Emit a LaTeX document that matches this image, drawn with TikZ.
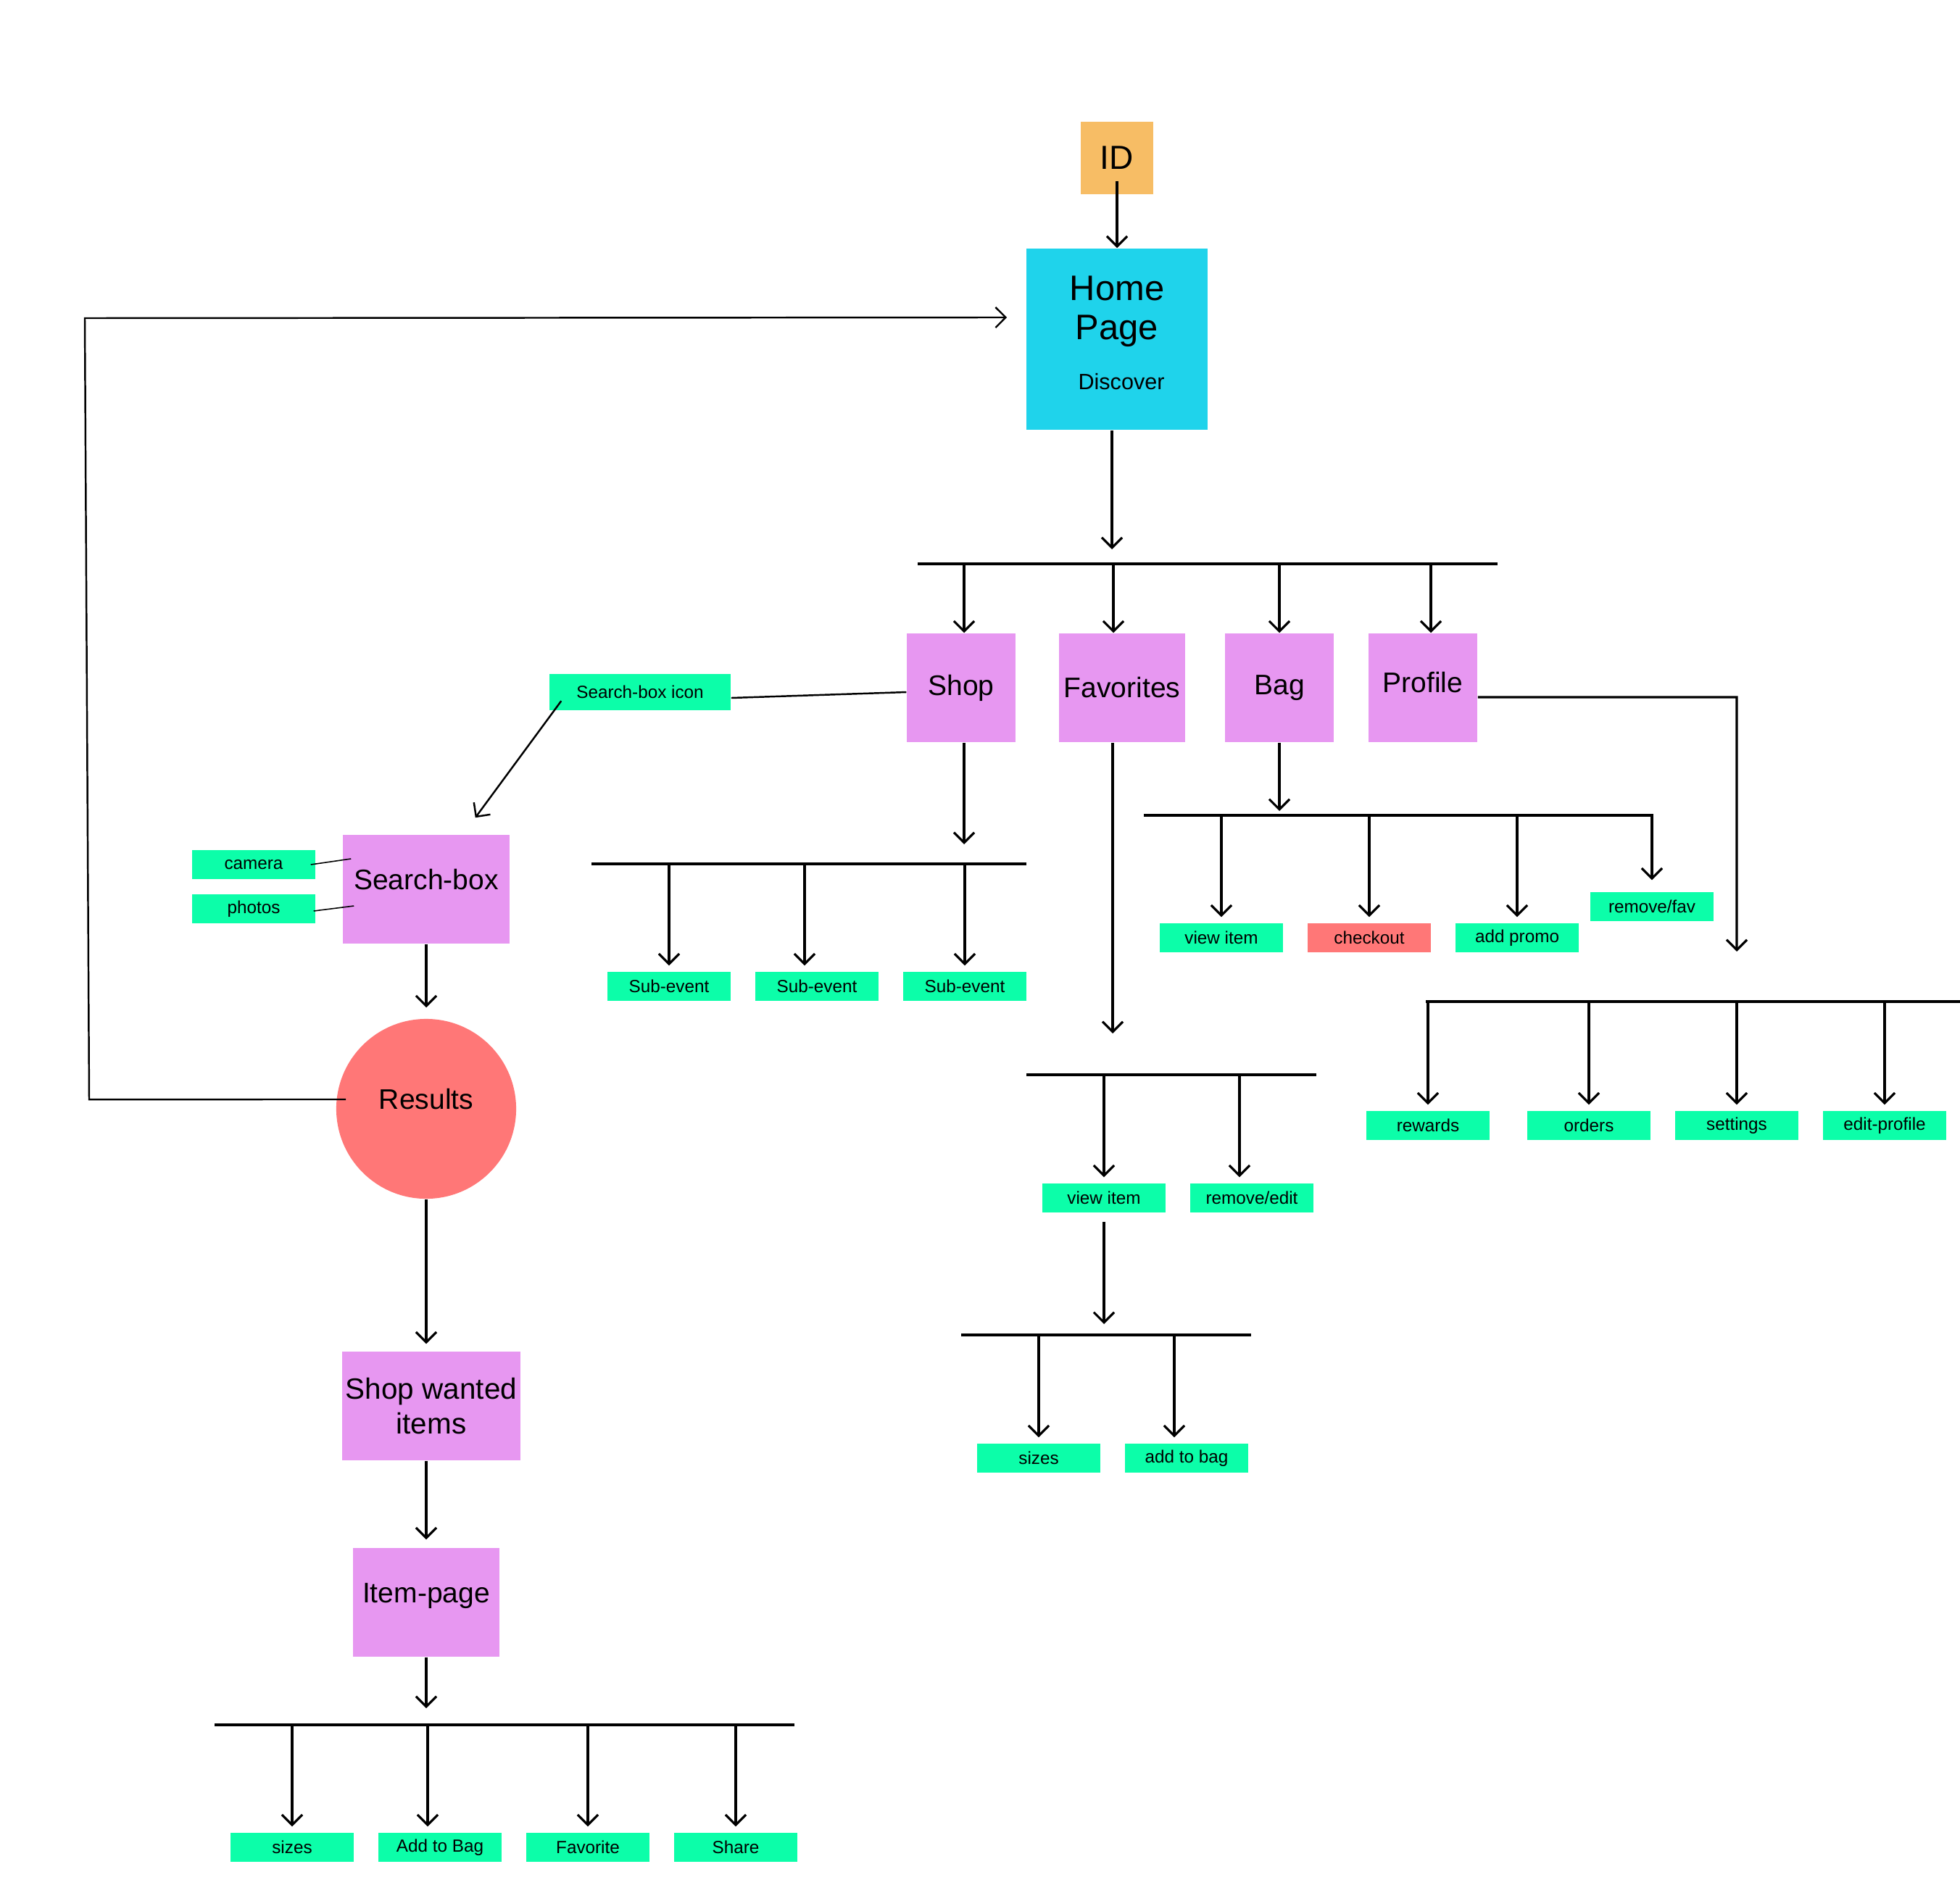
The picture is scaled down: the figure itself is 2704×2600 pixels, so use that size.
\documentclass[tikz,border=0pt]{standalone}
\usepackage{fontspec}
\setmainfont{Liberation Sans}
\usetikzlibrary{arrows.meta}
\definecolor{idorange}{HTML}{F7BD65}
\definecolor{homecyan}{HTML}{1FD3EB}
\definecolor{pagepink}{HTML}{E797F1}
\definecolor{leafgreen}{HTML}{0CFEA9}
\definecolor{alertred}{HTML}{FF7777}
\tikzset{
  arr/.style={-{Straight Barb[length=4pt,width=8pt]}, line width=0.9pt},
  branch/.style={arr, shorten >=0.08cm},
  bar/.style={line width=0.9pt},
  thinline/.style={line width=0.45pt},
  page/.style={fill=pagepink, minimum width=1.5cm, minimum height=1.5cm, inner sep=0pt,
    font=\fontsize{11.1}{13.4}\selectfont},
  leaf/.style={fill=leafgreen, minimum width=1.7cm, minimum height=0.4cm, inner sep=0pt,
    font=\fontsize{6.9}{8}\selectfont},
  raised/.style={text height=0.3cm, text depth=0.3cm}
}
\begin{document}
\begin{tikzpicture}[x=0.01cm, y=-0.01cm]
  \useasboundingbox (0,0) rectangle (2704,2600);

  % main column
  \node[fill=idorange, minimum size=1cm, inner sep=0pt, font=\fontsize{13.1}{15}\selectfont] (id) at (1541,218) {ID};
  \node[fill=homecyan, minimum size=2.5cm, inner sep=0pt, align=center,
    font=\fontsize{13.9}{15.6}\selectfont] (home) at (1541,468)
    {Home\\Page\\[4pt]{\fontsize{8.7}{10}\selectfont\hspace{0.12cm}Discover}\\[-0.37cm]};
  \draw[arr] ([yshift=0.19cm]id.south) -- (home);

  \coordinate (topL) at (1266,778);
  \coordinate (topR) at (2066,778);
  \draw[arr, shorten >=0.2cm] ([xshift=-0.07cm]home.south) -- ([xshift=-0.07cm]home.south |- topL);
  \draw[bar] (topL) -- (topR);

  \node[page] (shop) at (1326,949) {Shop};
  \node[page, minimum width=1.73cm] (fav) at (1548,949) {Favorites};
  \node[page] (bag) at (1765,949) {Bag};
  \node[page, text height=0.3cm, text depth=0.18cm] (profile) at (1963,949) {Profile};
  \foreach \nm/\dx in {shop/0.04, fav/-0.12, bag/0, profile/0.11} {
    \draw[arr] ([xshift=\dx cm]\nm.north |- topL) -- ([xshift=\dx cm]\nm.north);
  }

  % shop
  \coordinate (shopL) at (816,1192);
  \coordinate (shopR) at (1416,1192);
  \draw[arr, shorten >=0.27cm] ([xshift=0.04cm]shop.south) -- ([xshift=0.04cm]shop.south |- shopL);
  \draw[bar] (shopL) -- (shopR);
  \foreach \nm/\x/\dx in {sub1/923/0, sub2/1127/-0.17, sub3/1331/0} {
    \node[leaf] (\nm) at (\x,1361) {Sub-event};
    \draw[branch] ([xshift=\dx cm]\nm.north |- shopL) -- ([xshift=\dx cm]\nm.north);
  }

  % bag
  \coordinate (bagL) at (1578,1125);
  \draw[arr, shorten >=0.06cm] (bag) -- (bag |- bagL);
  \foreach \nm/\x/\col/\txt in {bview/1685/leafgreen/view item, bcheck/1889/alertred/checkout,
      bpromo/2093/leafgreen/add promo} {
    \node[leaf, fill=\col] (\nm) at (\x,1294) {\txt};
    \draw[branch] (\nm |- bagL) -- (\nm);
  }
  \node[leaf] (bremove) at (2279,1251) {remove/fav};
  \draw[arr, shorten >=0.16cm] (bagL) -- (bremove |- bagL) -- (bremove);

  % profile
  \coordinate (profturn) at (2396,962);
  \coordinate (profL) at (1967,1382);
  \coordinate (profR) at (2704,1382);
  \draw[arr, shorten >=0.69cm] ([yshift=-0.13cm]profile.east) -- (profturn) -- (profturn |- profL);
  \draw[bar] (profL) -- (profR);
  \foreach \nm/\x/\txt in {prew/1970/rewards, pord/2192/orders, pset/2396/settings, pedit/2600/edit-profile} {
    \node[leaf] (\nm) at (\x,1553) {\txt};
    \draw[branch] (\nm |- profL) -- (\nm);
  }

  % favorites
  \coordinate (favL) at (1416,1483);
  \coordinate (favR) at (1816,1483);
  \draw[arr, shorten >=0.57cm] ([xshift=-0.13cm]fav.south) -- ([xshift=-0.13cm]fav.south |- favL);
  \draw[bar] (favL) -- (favR);
  \foreach \nm/\x/\dx/\txt in {fview/1523/0/view item, fedit/1727/-0.17/{remove/edit}} {
    \node[leaf] (\nm) at (\x,1653) {\txt};
    \draw[branch] ([xshift=\dx cm]\nm.north |- favL) -- ([xshift=\dx cm]\nm.north);
  }
  \coordinate (viewL) at (1326,1842);
  \coordinate (viewR) at (1726,1842);
  \draw[arr, shorten <=0.12cm, shorten >=0.15cm] (fview) -- (fview |- viewL);
  \draw[bar] (viewL) -- (viewR);
  \foreach \nm/\x/\dx/\txt in {vsize/1433/0/sizes, vbag/1637/-0.17/add to bag} {
    \node[leaf] (\nm) at (\x,2012) {\txt};
    \draw[branch] ([xshift=\dx cm]\nm.north |- viewL) -- ([xshift=\dx cm]\nm.north);
  }

  % search
  \node[leaf, minimum width=2.5cm, minimum height=0.49cm] (sbicon) at (883,955) {Search-box icon};
  \draw[line width=0.7pt] ([yshift=-0.06cm]shop.west) -- ([yshift=-0.08cm]sbicon.east);
  \node[page, minimum width=2.3cm, raised] (sbox) at (588,1227) {Search-box};
  \draw[arr, line width=0.7pt] ([xshift=0.17cm,yshift=0.13cm]sbicon.south west)
    -- ([xshift=-0.48cm,yshift=0.23cm]sbox.north east);
  \node[leaf] (camera) at (350,1193) {camera};
  \node[leaf] (photos) at (350,1254) {photos};
  \draw[thinline] ([xshift=-0.07cm]camera.east) -- ([xshift=0.12cm,yshift=0.42cm]sbox.west);
  \draw[thinline] ([xshift=-0.03cm,yshift=-0.03cm]photos.east) -- ([xshift=0.16cm,yshift=-0.23cm]sbox.west);

  \node[circle, fill=alertred, minimum size=2.48cm, inner sep=0pt, raised,
    font=\fontsize{11.1}{13.4}\selectfont] (results) at (588,1530) {Results};
  \draw[arr, shorten >=0.15cm] (sbox) -- (results);

  % back to home
  \coordinate (loopbot) at (123,1517);
  \coordinate (looptop) at (117,439);
  \draw[arr, line width=0.7pt] ([xshift=0.14cm,yshift=0.13cm]results.west) -- (loopbot) -- (looptop)
    -- ([xshift=-0.26cm,yshift=0.3cm]home.west);

  \node[page, minimum width=2.45cm, align=center, font=\fontsize{11.5}{13.4}\selectfont] (wanted) at (595,1940) {Shop wanted\\items};
  \draw[arr, shorten >=0.1cm] (results) -- (results |- wanted.north);
  \node[page, minimum width=2.02cm, raised] (itempage) at (588,2211) {Item-page};
  \draw[arr, shorten >=0.11cm] (wanted.south -| itempage) -- (itempage);

  \coordinate (itemL) at (296,2380);
  \coordinate (itemR) at (1096,2380);
  \draw[arr, shorten >=0.23cm] (itempage) -- (itempage |- itemL);
  \draw[bar] (itemL) -- (itemR);
  \foreach \nm/\x/\dx/\txt in {isize/403/0/sizes, ibag/607/-0.17/Add to Bag, ifav/811/0/Favorite, ishare/1015/0/Share} {
    \node[leaf] (\nm) at (\x,2549) {\txt};
    \draw[branch] ([xshift=\dx cm]\nm.north |- itemL) -- ([xshift=\dx cm]\nm.north);
  }
\end{tikzpicture}
\end{document}
